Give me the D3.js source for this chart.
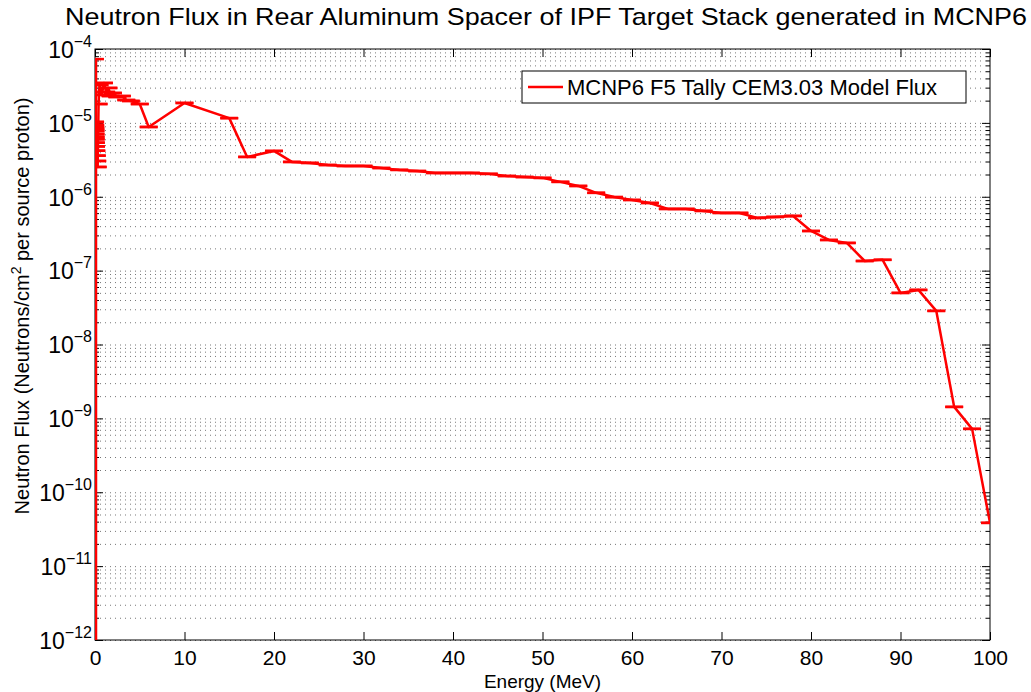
<!DOCTYPE html>
<html>
<head>
<meta charset="utf-8">
<script src="https://cdn.jsdelivr.net/npm/d3@7"></script>
<style>
  body { margin: 0; background: #fff; }
  svg { font-family: "Liberation Sans", Helvetica, Arial, sans-serif; }
</style>
</head>
<body>
<svg id="chart" width="1031" height="692"></svg>
<script>
// tally energies (MeV) and flux (neutrons/cm^2 per source proton)
const energy = [0, 0.01, 0.02, 0.03, 0.04, 0.05, 0.06, 0.07, 0.08, 0.1, 0.12, 0.15, 0.2, 0.25, 0.3, 0.4, 0.5, 0.75, 1.0, 1.25, 1.5, 1.75, 2.0, 2.5, 3.0, 3.5, 4.0, 5.0, 6.0,
  10, 15, 17, 20, 22, 24, 26, 28, 30, 32, 34, 36, 38, 40, 42, 44, 46, 48, 50,
  52, 54, 56, 58, 60, 62, 64, 66, 68, 70, 72, 74, 76, 78, 80,
  82, 84, 86, 88, 90, 92, 94, 96, 98, 100];

const flux = [3.0e-5, 1.03e-5, 9.4e-6, 8.8e-6, 8.3e-6, 7.8e-6, 7.1e-6, 6.5e-6, 6.0e-6, 5.4e-6, 4.8e-6, 4.2e-6, 3.6e-6, 3.05e-6, 2.53e-6, 1.8e-5, 3.26e-5, 2.39e-5, 3.47e-5, 2.62e-5, 2.97e-5, 2.31e-5, 2.54e-5, 2.24e-5, 2.31e-5, 2.04e-5, 1.98e-5, 1.8e-5, 8.8e-6,
  1.86e-5, 1.16e-5, 3.46e-6, 4.17e-6, 2.96e-6, 2.87e-6, 2.69e-6, 2.61e-6, 2.61e-6, 2.45e-6, 2.31e-6, 2.23e-6, 2.10e-6, 2.10e-6, 2.10e-6, 2.04e-6, 1.91e-6, 1.85e-6, 1.80e-6,
  1.59e-6, 1.40e-6, 1.13e-6, 9.9e-7, 9.05e-7, 8.24e-7, 6.84e-7, 6.84e-7, 6.43e-7, 6.04e-7, 6.04e-7, 5.17e-7, 5.33e-7, 5.5e-7, 3.44e-7,
  2.60e-7, 2.37e-7, 1.35e-7, 1.40e-7, 4.99e-8, 5.48e-8, 2.85e-8, 1.43e-9, 7.21e-10, 3.85e-11];

// absolute tally error (only the first bin is visibly wide)
const fluxErr = [4.3e-5, 0, 0, 0, 0, 0, 0, 0, 0, 0, 0, 0, 0, 0, 0, 0, 0, 0, 0, 0, 0, 0, 0, 0, 0, 0, 0, 0, 0,
  0, 0, 0, 0, 0, 0, 0, 0, 0, 0, 0, 0, 0, 0, 0, 0, 0, 0, 0,
  0, 0, 0, 0, 0, 0, 0, 0, 0, 0, 0, 0, 0, 0, 0,
  0, 0, 0, 0, 0, 0, 0, 0, 0, 0];

const xTicks = [0, 10, 20, 30, 40, 50, 60, 70, 80, 90, 100];
const yExponents = [-12, -11, -10, -9, -8, -7, -6, -5, -4];
const minorMultipliers = [2, 3, 4, 5, 6, 7, 8, 9];

const titleText = 'Neutron Flux in Rear Aluminum Spacer of IPF Target Stack generated in MCNP6';
const legendText = 'MCNP6 F5 Tally CEM3.03 Model Flux';

const margin = { top: 49, right: 41, bottom: 52, left: 95 };
const W = 1031, H = 692;
const w = W - margin.left - margin.right;
const h = H - margin.top - margin.bottom;
const capHalf = 1; // MeV
const red = '#ff0000';

const svg = d3.select('#chart');
const g = svg.append('g').attr('transform', 'translate(' + margin.left + ',' + margin.top + ')');

const x = d3.scaleLinear().domain([0, 100]).range([0, w]);
const y = d3.scaleLog().domain([1e-12, 1e-4]).range([h, 0]);

const majors = yExponents.map(e => Math.pow(10, e));
const minors = [];
yExponents.slice(0, -1).forEach(e => minorMultipliers.forEach(m => minors.push(m * Math.pow(10, e))));

svg.append('defs').append('clipPath').attr('id', 'clip')
  .append('rect').attr('width', w).attr('height', h);

// dotted horizontal grid (major + minor)
const grid = g.append('g').attr('class', 'grid')
  .call(d3.axisLeft(y).tickValues(majors.concat(minors)).tickSize(-w).tickFormat(''));
grid.select('.domain').remove();
grid.selectAll('.tick line')
  .attr('stroke', '#777')
  .attr('stroke-width', 1)
  .attr('stroke-dasharray', '1,4');

// box + ticks
g.append('rect').attr('width', w).attr('height', h).attr('fill', 'none').attr('stroke', '#000');

const gX = g.append('g').attr('transform', 'translate(0,' + h + ')')
  .call(d3.axisBottom(x).tickValues(xTicks).tickSizeInner(-8).tickSizeOuter(0).tickPadding(10));
gX.select('.domain').remove();
gX.selectAll('.tick text').attr('font-size', 21).attr('font-family', 'Liberation Sans, Arial, sans-serif').attr('fill', '#000');

const gXTop = g.append('g')
  .call(d3.axisTop(x).tickValues(xTicks).tickSizeInner(-8).tickSizeOuter(0).tickFormat(''));
gXTop.select('.domain').remove();

function yTicks(axisFn, xPos, vals, size) {
  const a = g.append('g').attr('transform', 'translate(' + xPos + ',0)')
    .call(axisFn(y).tickValues(vals).tickSizeInner(-size).tickSizeOuter(0).tickFormat(''));
  a.select('.domain').remove();
  return a;
}
const gY = yTicks(d3.axisLeft, 0, majors, 8);
yTicks(d3.axisLeft, 0, minors, 4);
yTicks(d3.axisRight, w, majors, 8);
yTicks(d3.axisRight, w, minors, 4);

g.selectAll('.tick line').filter(function() { return !this.closest('.grid'); }).attr('stroke', '#000');

// y tick labels 10^k
gY.selectAll('.tick').each(function(d) {
  const t = d3.select(this).append('text')
    .attr('x', -3).attr('y', 0).attr('dy', '0.36em')
    .attr('text-anchor', 'end').attr('fill', '#000').attr('font-size', 23)
    .attr('font-family', 'Liberation Sans, Arial, sans-serif');
  t.append('tspan').text('10');
  t.append('tspan').attr('dy', -11).attr('font-size', 16).text('\u2212' + Math.abs(Math.round(Math.log10(d))));
});

// data
const pts = energy.map((e, i) => ({ e: e, f: flux[i], err: fluxErr[i] }));
const body = g.append('g').attr('clip-path', 'url(#clip)');

body.append('path').datum(pts)
  .attr('fill', 'none').attr('stroke', red).attr('stroke-width', 2.5).attr('stroke-linejoin', 'round')
  .attr('d', d3.line().x(d => x(d.e)).y(d => y(d.f)));

const yClamp = v => v > 0 ? y(v) : h + 5;
const bars = body.selectAll('.eb').data(pts).enter().append('g').attr('class', 'eb');
bars.filter(d => d.err > 0).append('line')
  .attr('x1', d => x(d.e) + 1).attr('x2', d => x(d.e) + 1)
  .attr('y1', d => yClamp(d.f + d.err)).attr('y2', d => yClamp(d.f - d.err))
  .attr('stroke', red).attr('stroke-width', 2.5);
bars.append('line')
  .attr('x1', d => x(d.e - capHalf)).attr('x2', d => x(d.e + capHalf))
  .attr('y1', d => yClamp(d.f + d.err)).attr('y2', d => yClamp(d.f + d.err))
  .attr('stroke', red).attr('stroke-width', 2.5);
bars.filter(d => d.f - d.err > 0).append('line')
  .attr('x1', d => x(d.e - capHalf)).attr('x2', d => x(d.e + capHalf))
  .attr('y1', d => y(d.f - d.err)).attr('y2', d => y(d.f - d.err))
  .attr('stroke', red).attr('stroke-width', 2.5);

// legend
const leg = g.append('g').attr('transform', 'translate(' + (522 - margin.left) + ',' + (71 - margin.top) + ')');
leg.append('rect').attr('width', 444).attr('height', 32).attr('fill', '#fff').attr('stroke', '#000');
leg.append('line').attr('x1', 6).attr('x2', 41).attr('y1', 16).attr('y2', 16).attr('stroke', red).attr('stroke-width', 2.5);
leg.append('text').attr('x', 45).attr('y', 24).attr('font-size', 22).attr('fill', '#000').text(legendText);

// titles
svg.append('text').attr('x', 546).attr('y', 25).attr('text-anchor', 'middle')
  .attr('font-size', 24).attr('textLength', 962).attr('lengthAdjust', 'spacingAndGlyphs')
  .attr('fill', '#000').text(titleText);

svg.append('text').attr('x', margin.left + w / 2).attr('y', 688).attr('text-anchor', 'middle')
  .attr('font-size', 19).attr('fill', '#000').text('Energy (MeV)');

const yl = svg.append('text').attr('transform', 'translate(29,306) rotate(-90)')
  .attr('text-anchor', 'middle').attr('font-size', 20).attr('fill', '#000');
yl.append('tspan').text('Neutron Flux (Neutrons/cm');
yl.append('tspan').attr('dy', -8).attr('font-size', 14).text('2');
yl.append('tspan').attr('dy', 8).text(' per source proton)');
</script>
</body>
</html>
